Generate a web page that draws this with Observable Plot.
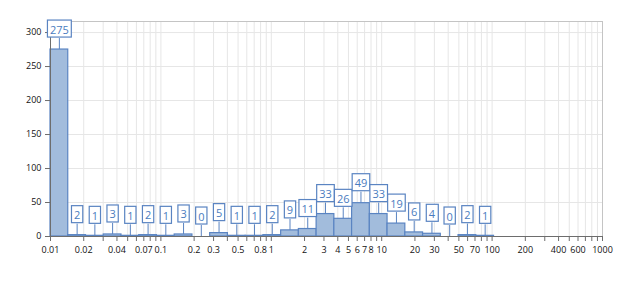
<!DOCTYPE html>
<html>
<head>
<meta charset="utf-8">
<script src="https://cdn.jsdelivr.net/npm/d3@7"></script>
<script src="https://cdn.jsdelivr.net/npm/@observablehq/plot@0.6"></script>
<style>
  html, body { margin: 0; padding: 0; background: #fff; }
</style>
</head>
<body>
<div id="chart"></div>
<script>
// Histogram bin edges (log-spaced)
const binEdges = [0.01, 0.01448, 0.02097, 0.03035, 0.04394, 0.06362, 0.09209, 0.1333, 0.1930, 0.2795,
  0.4046, 0.5857, 0.8479, 1.228, 1.777, 2.573, 3.725, 5.393, 7.807, 11.30, 16.37, 23.70, 34.30, 49.67, 71.91, 104.1];
// Counts per bin
const counts = [275, 2, 1, 3, 1, 2, 1, 3, 0, 5, 1, 1, 2, 9, 11, 33, 26, 49, 33, 19, 6, 4, 0, 2, 1];
// X tick labels shown
const xTickLabels = [0.01, 0.02, 0.04, 0.07, 0.1, 0.2, 0.3, 0.5, 0.8, 1, 2, 3, 4, 5, 6, 7, 8, 10, 20, 30, 50, 70, 100, 200, 400, 600, 1000];
// X tick marks / grid lines
const xTickMarks = [0.01, 0.02, 0.03, 0.04, 0.05, 0.06, 0.07, 0.08, 0.09,
  0.1, 0.2, 0.3, 0.4, 0.5, 0.6, 0.7, 0.8, 0.9,
  1, 2, 3, 4, 5, 6, 7, 8, 9,
  10, 20, 30, 40, 50, 60, 70, 80, 90,
  100, 200, 300, 400, 500, 600, 700, 800, 900, 1000];
// Y ticks
const yTicks = [0, 50, 100, 150, 200, 250, 300];
const yMax = 316.25;

const bins = counts.map((c, i) => ({
  x1: binEdges[i],
  x2: binEdges[i + 1],
  xc: Math.sqrt(binEdges[i] * binEdges[i + 1]),
  count: c
}));

const blue = "#5a84c2";
const labelBlue = "#4a7cc0";

const plot = Plot.plot({
  width: 642,
  height: 290,
  marginLeft: 50,
  marginRight: 40,
  marginTop: 21,
  marginBottom: 54,
  style: {fontFamily: "'Open Sans', sans-serif", fontSize: "9px", background: "#fff", overflow: "visible"},
  x: {type: "log", domain: [0.01, 1000], axis: null},
  y: {domain: [0, yMax], axis: null},
  marks: [
    Plot.gridX(xTickMarks, {stroke: "#e6e6e6", strokeOpacity: 1}),
    Plot.gridY(yTicks, {stroke: "#e6e6e6", strokeOpacity: 1}),
    Plot.rectY(bins, {x1: "x1", x2: "x2", y: "count", fill: "#a2bcdc", stroke: blue, strokeWidth: 1.2}),
    Plot.frame({stroke: "#c4c4c4"}),
    Plot.ruleY([0], {stroke: "#6d6d6d"}),
    Plot.ruleX([0.01], {stroke: "#6d6d6d"}),
    // x tick marks
    Plot.ruleX(xTickMarks, {x: d => d, y1: 0, y2: 0, insetBottom: -5, stroke: "#6d6d6d"}),
    // x tick labels
    Plot.text(xTickLabels, {x: d => d, y: 0, dy: 14, text: d => String(d), lineAnchor: "middle", fill: "#111", fontSize: 9}),
    // y tick marks
    Plot.ruleY(yTicks, {y: d => d, x1: 0.01, x2: 0.01, insetLeft: -5, stroke: "#6d6d6d"}),
    // y tick labels
    Plot.text(yTicks, {x: 0.01, y: d => d, dx: -9, textAnchor: "end", text: d => String(d), lineAnchor: "middle", fill: "#111", fontSize: 9}),
    // stems
    Plot.ruleX(bins, {x: "xc", y1: "count", y2: "count", insetTop: -11, stroke: blue}),
    // value labels
    Plot.text(bins, {x: "xc", y: "count", dy: -19.5, text: d => String(d.count), lineAnchor: "middle", fill: labelBlue, fontSize: 11})
  ]
});

document.getElementById("chart").appendChild(plot);

// Draw a box behind each value label (the last text group)
const ns = "http://www.w3.org/2000/svg";
const groups = Array.from(plot.querySelectorAll("g")).filter(g => g.getAttribute("fill") === labelBlue);
const labelGroup = groups[groups.length - 1];
if (labelGroup) {
  Array.from(labelGroup.querySelectorAll("text")).forEach(t => {
    const b = t.getBBox();
    const padX = 2.5, h = 17;
    const cy = b.y + b.height / 2 - 0.5;
    const r = document.createElementNS(ns, "rect");
    r.setAttribute("x", b.x - padX);
    r.setAttribute("y", cy - h / 2);
    r.setAttribute("width", b.width + 2 * padX);
    r.setAttribute("height", h);
    r.setAttribute("fill", "#fff");
    r.setAttribute("stroke", blue);
    r.setAttribute("stroke-width", 1.2);
    if (t.getAttribute("transform")) r.setAttribute("transform", t.getAttribute("transform"));
    t.parentNode.insertBefore(r, t);
  });
}
</script>
</body>
</html>
